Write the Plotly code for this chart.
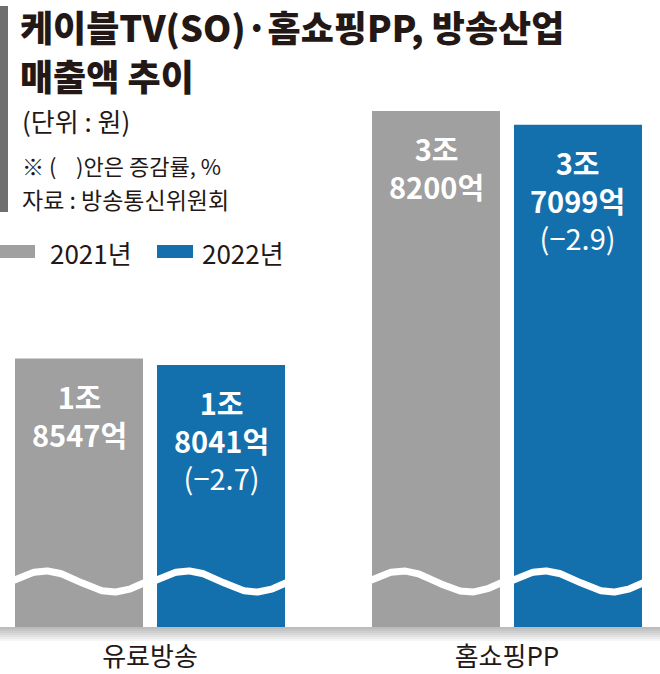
import numpy as np
import plotly.graph_objects as go

# values in 억원
categories = ["유료방송", "홈쇼핑PP"]
years = ["2021년", "2022년"]
sales_2021 = [18547, 38200]
sales_2022 = [18041, 37099]
change_pct = [-2.7, -2.9]

GRAY = "#a0a0a0"
BLUE = "#1470ad"
INK = "#231815"
FONT = "Noto Sans CJK KR"

W, H = 660, 674
BOTTOM = 47                      # px below the baseline
PLOT_H = H - BOTTOM
BAR_GAP = 0.2045
GROUP_GAP = 0.0986
X_RANGE = [-0.4202, 1.4286]
AXIS_BREAK = -2758               # fake broken axis: bars start below zero
Y_TOP = 47000


def py(px):
    # pixel row (from top) -> paper y
    return 1 - px / PLOT_H


def px_x(px):
    return px / W


def won_label(v):
    jo, eok = divmod(v, 10000)
    return f"{jo}조<br>{eok}억"


slot = (1 - BAR_GAP) / 2
bar_w = slot * (1 - GROUP_GAP)
unit_px = W / (X_RANGE[1] - X_RANGE[0])

fig = go.Figure()
series = [(years[0], sales_2021, GRAY), (years[1], sales_2022, BLUE)]
xs = list(range(len(categories)))
for name, vals, col in series:
    fig.add_trace(go.Bar(
        x=xs, y=[v - AXIS_BREAK for v in vals], base=AXIS_BREAK,
        name=name, marker=dict(color=col, line=dict(width=0)),
        showlegend=False, hoverinfo="skip",
    ))

# white wave marking the axis break, one per bar
wx, wy = [], []
for j in range(len(series)):
    for i in xs:
        left = i + (j - 0.5) * slot - bar_w / 2
        t = np.linspace(left - 0.01, left + bar_w + 0.01, 120)
        d = (t - left) * unit_px
        wx += list(t) + [None]
        wy += list(45.5 + 10.5 * np.cos(2 * np.pi * (d - 30) / 136)) + [None]
fig.add_trace(go.Scatter(
    x=wx, y=wy, yaxis="y2", mode="lines",
    line=dict(color="white", width=7),
    showlegend=False, hoverinfo="skip",
))

anns = []
for j, (name, vals, col) in enumerate(series):
    for i in xs:
        txt = won_label(vals[i])
        if j == 1:
            txt += "<br><span style='font-weight:400'>(" + \
                f"{change_pct[i]:.1f}".replace("-", "−") + ")</span>"
        anns.append(dict(
            x=i + (j - 0.5) * slot, y=vals[i], xref="x", yref="y",
            text=txt, showarrow=False, yanchor="top", yshift=-14,
            font=dict(family=FONT, size=29, color="white", weight=700),
        ))

# title block
head = [
    (18, 26, "케이블TV(SO)·홈쇼핑PP, 방송산업", 36, 900),
    (18, 75, "매출액 추이", 36, 900),
    (20, 121, "(단위 : 원)", 26, 400),
    (20, 165, "※ (    )안은 증감률, %", 22, 400),
    (20, 199, "자료 : 방송통신위원회", 23, 400),
    (48, 252, years[0], 26, 400),
    (200, 252, years[1], 26, 400),
]
for x, y, txt, size, weight in head:
    anns.append(dict(
        x=px_x(x), y=py(y), xref="paper", yref="paper", text=txt,
        xanchor="left", yanchor="middle", showarrow=False,
        font=dict(family=FONT, size=size, color=INK, weight=weight),
    ))

shapes = [
    dict(type="rect", xref="paper", yref="paper", x0=0, x1=px_x(8),
         y0=py(212), y1=py(6), fillcolor="#6e6e6e", line_width=0),
    dict(type="rect", xref="paper", yref="paper", x0=0, x1=px_x(35),
         y0=py(258), y1=py(245), fillcolor=GRAY, line_width=0),
    dict(type="rect", xref="paper", yref="paper", x0=px_x(157), x1=px_x(193),
         y0=py(258), y1=py(245), fillcolor=BLUE, line_width=0),
]
# soft grey floor under the bars
for k in range(7):
    g = int(0xbc + (0xff - 0xbc) * k / 7)
    shapes.append(dict(type="rect", xref="paper", yref="paper", x0=0, x1=1,
                       y0=py(PLOT_H + 2 * k + 2), y1=py(PLOT_H + 2 * k),
                       fillcolor=f"rgb({g},{g},{g})", line_width=0))

fig.update_layout(
    width=W, height=H,
    margin=dict(l=0, r=0, t=0, b=BOTTOM, autoexpand=False),
    paper_bgcolor="white", plot_bgcolor="white",
    barmode="group", bargap=BAR_GAP, bargroupgap=GROUP_GAP,
    font=dict(family=FONT, color=INK),
    xaxis=dict(range=X_RANGE, tickvals=xs, ticktext=categories,
               showgrid=False, zeroline=False, showline=False, ticks="",
               automargin=False,
               tickfont=dict(size=26, color=INK), ticklabelstandoff=12),
    yaxis=dict(range=[AXIS_BREAK, Y_TOP], visible=False, automargin=False),
    yaxis2=dict(range=[0, PLOT_H], overlaying="y", visible=False),
    annotations=anns, shapes=shapes,
)

# page body has an 8px default margin; drop it so the figure fills the window
fig.write_html("out.html", config={"displayModeBar": False},
               post_script="document.body.style.margin='0';")
